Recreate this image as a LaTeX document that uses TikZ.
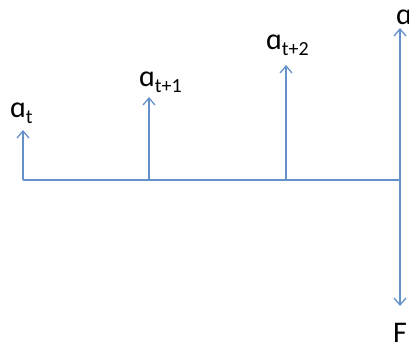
\documentclass[tikz,border=0pt]{standalone}
\usepackage{fontspec}
\setmainfont{Carlito}
\usetikzlibrary{arrows.meta}
\definecolor{axisblue}{RGB}{100,144,204}

\newcommand{\alab}[1]{ɑ\raisebox{-6pt}{\fontsize{20}{20}\selectfont #1}}

\begin{document}
\begin{tikzpicture}[
      x=1pt, y=-1pt,
      lbl/.style={anchor=base west, inner sep=0pt, font=\fontsize{30}{32}\selectfont},
      axis/.style={axisblue, line width=1.3pt},
      arrow/.style={-{Straight Barb[length=7pt,width=12pt]}, axisblue, line width=1.3pt}
    ]
      \useasboundingbox (0,0) rectangle (409,343);

      % Points on the axis
      \coordinate (b0) at (23,180);
      \coordinate (b1) at (149,180);
      \coordinate (b2) at (286,180);
      \coordinate (b3) at (400,180);

      % Arrow tips
      \coordinate (tip0) at (23,130);
      \coordinate (tip1) at (149,97);
      \coordinate (tip2) at (286,65);
      \coordinate (tipup) at (400,28);
      \coordinate (tipdown) at (400,306);

      % Labels
      \node[lbl] (lab0) at (10,117) {\alab{t}};
      \node[lbl] (lab1) at (139,86) {\alab{t+1}};
      \node[lbl] (lab2) at (266,49) {\alab{t+2}};
      \node[lbl] (labup) at (396,24) {ɑ};
      \node[lbl] (labF) at (393,342) {F};

      % Axis and arrows
      \draw[axis] (b0) -- (b3);
      \draw[arrow] (b0) -- (tip0);
      \draw[arrow] (b1) -- (tip1);
      \draw[arrow] (b2) -- (tip2);
      \draw[arrow] (b3) -- (tipup);
      \draw[arrow] (b3) -- (tipdown);

    \end{tikzpicture}
\end{document}
